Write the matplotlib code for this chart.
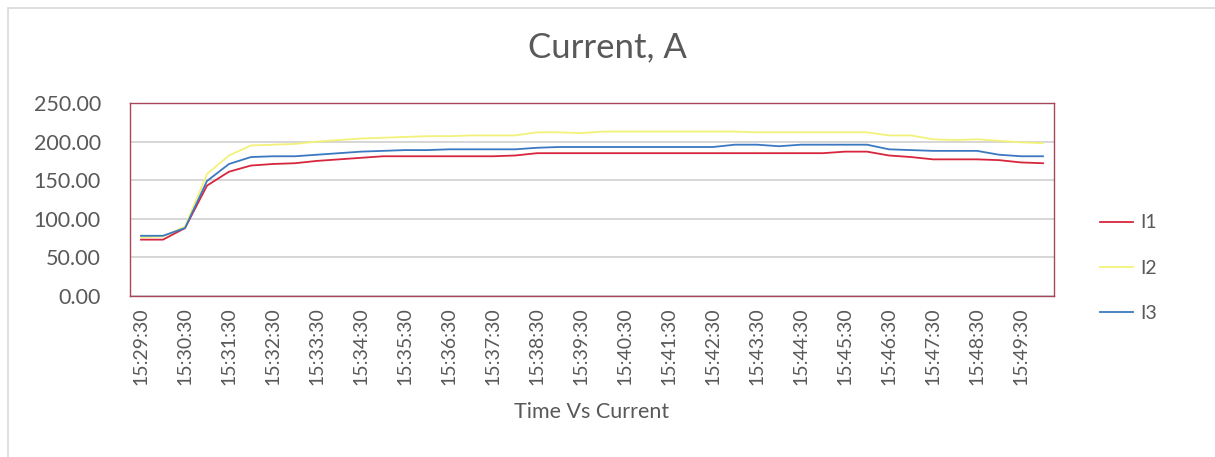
import matplotlib.pyplot as plt
from matplotlib.patches import Rectangle
import numpy as np

# every 30 s from 15:29:30 to 15:50:00
times = [f"15:{29 + (30 + 30 * i) // 60:02d}:{(30 + 30 * i) % 60:02d}" for i in range(42)]

i1 = [73, 73, 88, 143, 161, 169, 171, 172, 175, 177, 179, 181, 181, 181,
      181, 181, 181, 182, 185, 185, 185, 185, 185, 185, 185, 185, 185, 185,
      185, 185, 185, 185, 187, 187, 182, 180, 177, 177, 177, 176, 173, 172]
i2 = [76, 77, 90, 158, 182, 195, 196, 197, 200, 202, 204, 205, 206, 207,
      207, 208, 208, 208, 212, 212, 211, 213, 213, 213, 213, 213, 213, 213,
      212, 212, 212, 212, 212, 212, 208, 208, 203, 202, 203, 201, 199, 198]
i3 = [78, 78, 88, 149, 171, 180, 181, 181, 183, 185, 187, 188, 189, 189,
      190, 190, 190, 190, 192, 193, 193, 193, 193, 193, 193, 193, 193, 196,
      196, 194, 196, 196, 196, 196, 190, 189, 188, 188, 188, 183, 181, 181]

series = [("I1", i1, "#d7263d"), ("I2", i2, "#f2f27a"), ("I3", i3, "#3b78c2")]

font = "Lato"
txt = "#595959"

fig = plt.figure(figsize=(12.15, 4.57), dpi=100)
fig.patches.append(Rectangle((8 / 1215, -0.1), 1.2, 1 - 8 / 457 + 0.1,
                             transform=fig.transFigure, fill=False,
                             edgecolor="#d9d9d9", linewidth=1.2))

ax = fig.add_axes([130 / 1215, 1 - 296 / 457, 924 / 1215, 193 / 457])
x = np.arange(len(times))
for name, vals, col in series:
    ax.plot(x, vals, color=col, linewidth=1.3, label=name)

ax.set_xlim(-0.5, len(times) - 0.5)
ax.set_ylim(0, 250)
ax.set_yticks(np.arange(0, 251, 50))
ax.set_yticklabels([f"{v:.2f}" for v in range(0, 251, 50)], fontsize=15.5,
                   family=font, color=txt)
ax.set_xticks(x[::2])
ax.set_xticklabels(times[::2], rotation=90, fontsize=14, family=font, color=txt)
ax.tick_params(length=0, pad=8)
ax.tick_params(axis="y", pad=21)
ax.grid(axis="y", color="#d0d0d0", linewidth=1.2)
ax.set_axisbelow(True)
for s in ax.spines.values():
    s.set_color("#a8475a")
    s.set_linewidth(1.0)

ax.set_xlabel("Time Vs Current", fontsize=15.5, family=font, color=txt, labelpad=12)
fig.text(0.5, 1 - 47 / 457, "Current, A", ha="center", va="center",
         fontsize=25, family=font, color=txt)

leg = fig.legend(loc="center left", bbox_to_anchor=(1082 / 1215, 1 - 268 / 457),
                 frameon=False, prop={"family": font, "size": 14},
                 labelspacing=1.45, handlelength=1.7, handletextpad=0.4)
for t in leg.get_texts():
    t.set_color(txt)

fig.savefig("out.png", dpi=100)
